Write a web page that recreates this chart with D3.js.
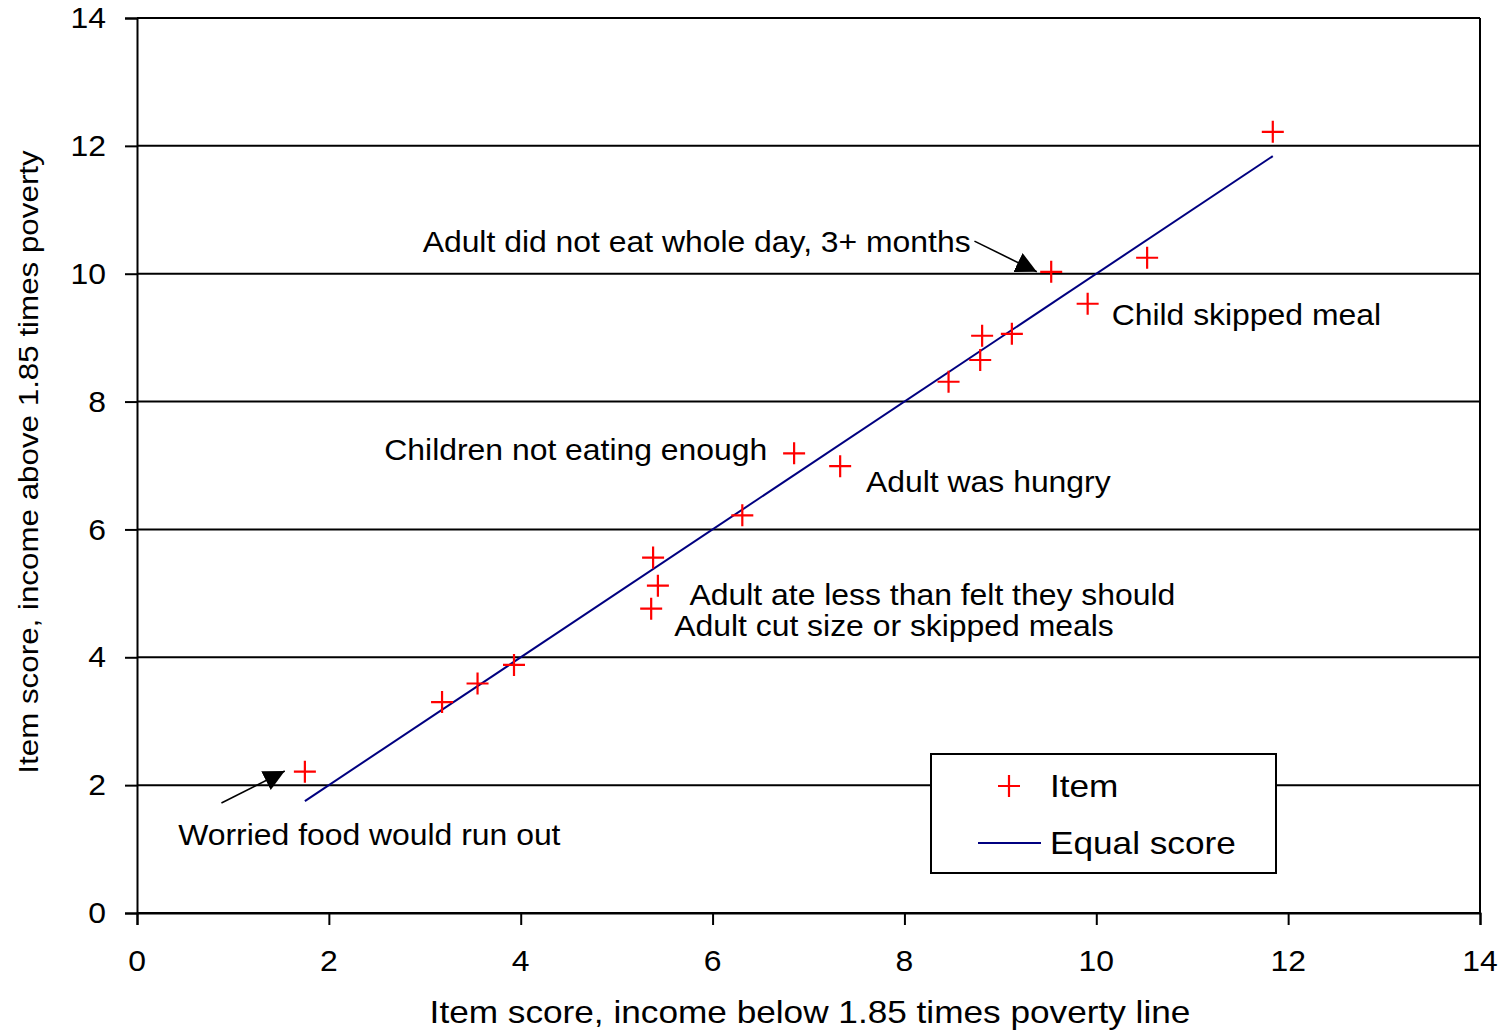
<!DOCTYPE html>
<html>
<head>
<meta charset="utf-8">
<script src="https://cdn.jsdelivr.net/npm/d3@7"></script>
<style>
  body { margin: 0; background: #fff; }
  text { font-family: "Liberation Sans", Arial, sans-serif; fill: #000; }
</style>
</head>
<body>
<div id="chart"></div>
<script>
// chart size and plot margins
const width = 1509;
const height = 1031;
const margin = {left: 137, right: 29, top: 18, bottom: 118};
const stretch = 1.1; // the original text is a bit wider than Arial

// data
const itemX = [1.75, 3.18, 3.55, 3.93, 5.38, 5.43, 5.36, 6.31, 6.85, 7.33, 8.46, 8.79, 8.81, 9.12, 9.53, 9.91, 10.53, 11.84];
const itemY = [2.21, 3.30, 3.59, 3.88, 5.56, 5.12, 4.76, 6.22, 7.19, 6.99, 8.31, 8.65, 9.03, 9.06, 10.03, 9.53, 10.25, 12.22];
const equalLine = [1.75, 11.84];
const xTicks = [0, 2, 4, 6, 8, 10, 12, 14];
const yTicks = [0, 2, 4, 6, 8, 10, 12, 14];

// annotation labels: text, anchor x/y in data units
const labels = [
  {text: "Adult did not eat whole day, 3+ months", x: 8.69, y: 10.5, anchor: "end"},
  {text: "Child skipped meal", x: 10.16, y: 9.36, anchor: "start"},
  {text: "Children not eating enough", x: 6.57, y: 7.24, anchor: "end"},
  {text: "Adult was hungry", x: 7.6, y: 6.75, anchor: "start"},
  {text: "Adult ate less than felt they should", x: 5.76, y: 4.98, anchor: "start"},
  {text: "Adult cut size or skipped meals", x: 5.6, y: 4.49, anchor: "start"},
  {text: "Worried food would run out", x: 0.43, y: 1.23, anchor: "start"}
];
// arrows: from (x1,y1) to tip (x2,y2)
const arrows = [
  {x1: 8.73, y1: 10.51, x2: 9.38, y2: 10.03},
  {x1: 0.88, y1: 1.72, x2: 1.54, y2: 2.22}
];

const svg = d3.select("#chart")
  .append("svg")
  .attr("width", width)
  .attr("height", height);

const xScale = d3.scaleLinear()
  .domain([0, 14])
  .range([margin.left, width - margin.right]);

const yScale = d3.scaleLinear()
  .domain([0, 14])
  .range([height - margin.bottom, margin.top]);

// put a text at (x,y) widened horizontally
function wideText(g, x, y, size, str, anchor) {
  return g.append("text")
    .attr("transform", `translate(${x},${y}) scale(${stretch},1)`)
    .attr("text-anchor", anchor || "start")
    .attr("font-size", size + "px")
    .attr("dy", "0.35em")
    .text(str);
}

// gridlines
svg.append("g")
  .selectAll("line")
  .data(yTicks)
  .enter()
  .append("line")
  .attr("x1", xScale(0))
  .attr("x2", xScale(14))
  .attr("y1", d => yScale(d))
  .attr("y2", d => yScale(d))
  .attr("stroke", "#000")
  .attr("stroke-width", 2);

// right border
svg.append("line")
  .attr("x1", xScale(14)).attr("x2", xScale(14))
  .attr("y1", yScale(0)).attr("y2", yScale(14))
  .attr("stroke", "#000").attr("stroke-width", 2);

// axes
const yAxis = svg.append("g")
  .attr("transform", `translate(${margin.left},0)`)
  .call(d3.axisLeft(yScale).tickValues(yTicks).tickSize(12).tickFormat(""));

const xAxis = svg.append("g")
  .attr("transform", `translate(0,${height - margin.bottom})`)
  .call(d3.axisBottom(xScale).tickValues(xTicks).tickSize(12).tickFormat(""));

[yAxis, xAxis].forEach(a => {
  a.select(".domain").attr("stroke", "#000").attr("stroke-width", 2);
  a.selectAll(".tick line").attr("stroke", "#000").attr("stroke-width", 2);
});

// tick labels
yTicks.forEach(t => wideText(svg, 106, yScale(t), 29, t, "end"));
xTicks.forEach(t => wideText(svg, xScale(t), 961, 29, t, "middle"));

// axis titles
wideText(svg, 810, 1012, 32, "Item score, income below 1.85 times poverty line", "middle");

svg.append("text")
  .attr("transform", `translate(28, 462) rotate(-90) scale(${stretch},1)`)
  .attr("text-anchor", "middle")
  .attr("dy", "0.35em")
  .attr("font-size", "28.5px")
  .text("Item score, income above 1.85 times poverty");

// equal score line
svg.append("line")
  .attr("x1", xScale(equalLine[0]))
  .attr("y1", yScale(equalLine[0]))
  .attr("x2", xScale(equalLine[1]))
  .attr("y2", yScale(equalLine[1]))
  .attr("stroke", "#000080")
  .attr("stroke-width", 2);

// item markers (plus signs)
const plusPath = s => `M${-s},0H${s}M0,${-s}V${s}`;
svg.append("g")
  .selectAll("path")
  .data(itemX)
  .enter()
  .append("path")
  .attr("transform", (d, i) => `translate(${xScale(d)},${yScale(itemY[i])})`)
  .attr("d", plusPath(11))
  .attr("stroke", "#ff0000")
  .attr("stroke-width", 2.2)
  .attr("fill", "none");

// arrow marker
svg.append("defs")
  .append("marker")
  .attr("id", "tri")
  .attr("viewBox", "0 0 10 10")
  .attr("refX", 10)
  .attr("refY", 5)
  .attr("markerWidth", 21)
  .attr("markerHeight", 21)
  .attr("markerUnits", "userSpaceOnUse")
  .attr("orient", "auto")
  .append("path")
  .attr("d", "M0,0L10,5L0,10Z")
  .attr("fill", "#000");

svg.append("g")
  .selectAll("line")
  .data(arrows)
  .enter()
  .append("line")
  .attr("x1", d => xScale(d.x1))
  .attr("y1", d => yScale(d.y1))
  .attr("x2", d => xScale(d.x2))
  .attr("y2", d => yScale(d.y2))
  .attr("stroke", "#000")
  .attr("stroke-width", 1.6)
  .attr("marker-end", "url(#tri)");

// annotation labels
const labelG = svg.append("g");
labels.forEach(d => wideText(labelG, xScale(d.x), yScale(d.y), 29, d.text, d.anchor));

// legend
const legend = svg.append("g").attr("transform", "translate(931,754)");
legend.append("rect")
  .attr("width", 345)
  .attr("height", 119)
  .attr("fill", "#fff")
  .attr("stroke", "#000")
  .attr("stroke-width", 2);
legend.append("path")
  .attr("transform", "translate(78,32)")
  .attr("d", plusPath(11))
  .attr("stroke", "#ff0000")
  .attr("stroke-width", 2.2)
  .attr("fill", "none");
wideText(legend, 119, 32, 32, "Item");
legend.append("line")
  .attr("x1", 47).attr("x2", 110)
  .attr("y1", 89).attr("y2", 89)
  .attr("stroke", "#000080")
  .attr("stroke-width", 2);
wideText(legend, 119, 89, 32, "Equal score");
</script>
</body>
</html>
